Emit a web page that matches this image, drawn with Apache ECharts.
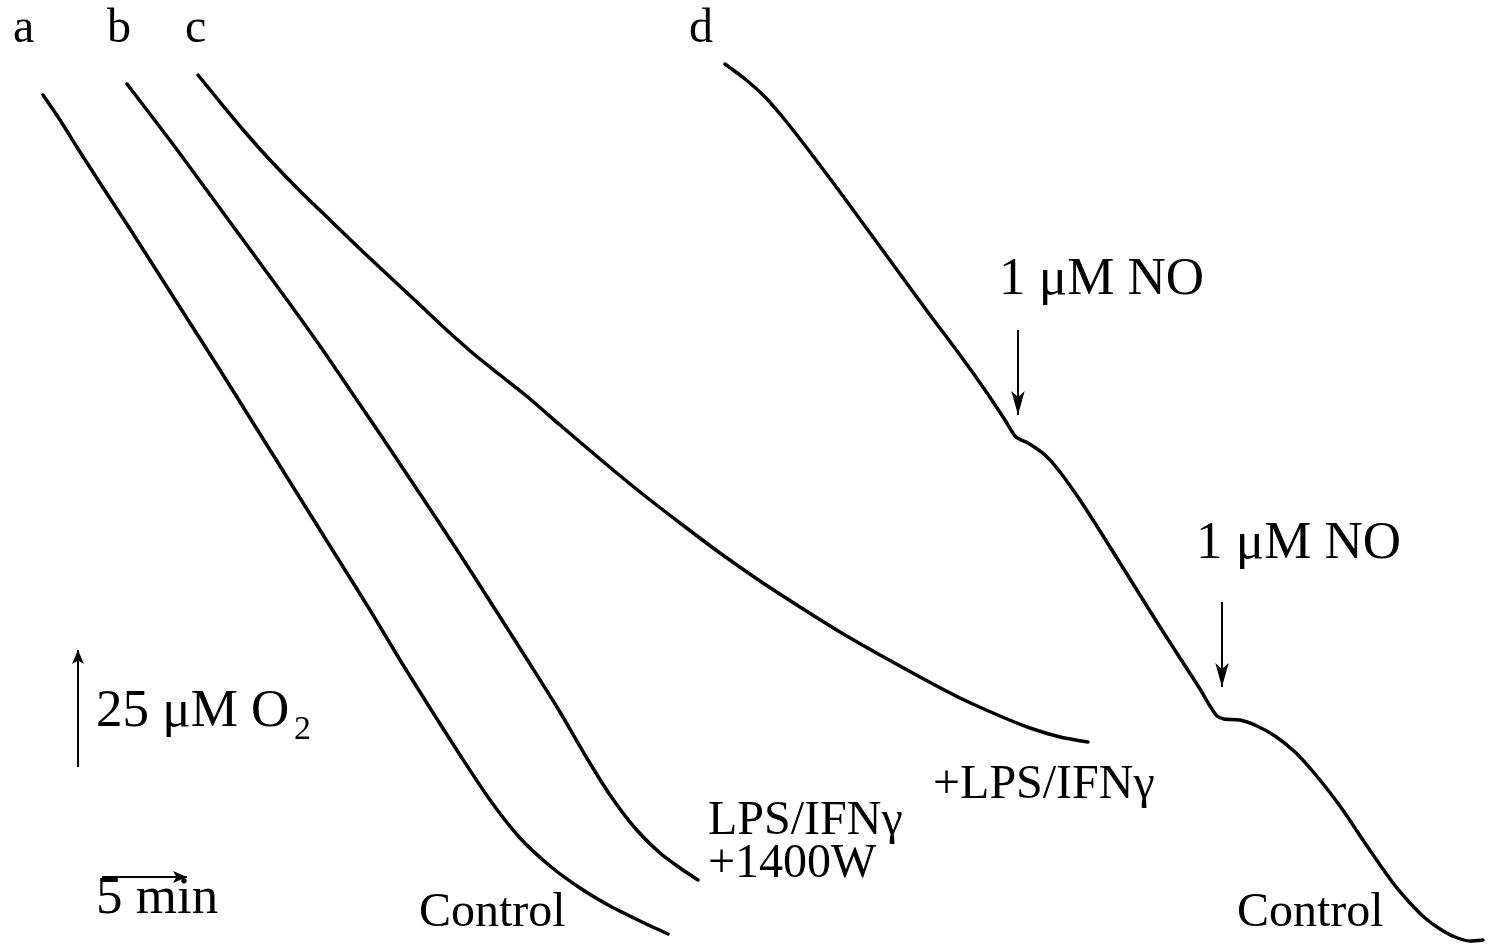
<!DOCTYPE html>
<html><head><meta charset="utf-8">
<script src="https://cdn.jsdelivr.net/npm/echarts@6/dist/echarts.min.js"></script>
<style>html,body{margin:0;padding:0;background:#fff}#chart{width:1488px;height:951px}</style>
</head><body><div id="chart"></div>
<script>
// Oxygen electrode traces, in recording-chart units (x: time, y: pen deflection, downward = O2 consumed)
const traceA = [[43,95],[60,120],[80,152],[100,183],[130,229],[160,276],[190,323],[220,370],[250,418],[280,466],[310,514],[340,562],[370,610],[400,660],[430,708],[460,755],[490,800],[520,838],[550,866],[580,888],[610,906],[640,921],[668,934]];
const traceB = [[127,84],[150,114],[175,147],[200,181],[230,222],[260,263],[290,304],[320,346],[350,390],[380,434],[410,479],[440,524],[470,570],[500,617],[530,664],[560,712],[585,755],[610,795],[635,828],[660,853],[680,868],[698,880]];
const traceC = [[198,75],[220,102],[245,132],[270,160],[300,191],[330,220],[360,249],[390,277],[420,305],[450,333],[475,355],[500,375],[530,399],[560,425],[600,459],[640,492],[680,523],[720,553],[760,581],[800,607],[840,632],[880,655],[920,677],[960,698],[1000,716],[1030,728],[1060,737],[1088,742]];
const traceD = [[725,64],[745,79],[765,97],[785,120],[810,152],[840,192],[870,233],[900,274],[930,315],[960,355],[985,390],[1005,420],[1016,437],[1028,443],[1045,455],[1060,472],[1080,500],[1100,531],[1120,563],[1140,595],[1160,627],[1180,658],[1200,689],[1210,706],[1217,716],[1224,719],[1240,720],[1257,726],[1275,736],[1295,752],[1315,774],[1340,806],[1367,846],[1393,883],[1410,903],[1425,918],[1440,929],[1455,937],[1470,941],[1483,940]];
// NO additions on trace d: [time, arrow start, arrow end]
const noAdditions = [[1018,330,415],[1222,602,687]];
// Scale bars: 25 µM O2 (vertical), 5 min (horizontal)
const o2Bar = [[78,767],[78,650]];
const timeBar = [[102,877],[187,877]];
const traceNames = ['a','b','c','d'];
const conditionLabels = ['Control','LPS/IFNγ','+1400W','+LPS/IFNγ','Control'];
const noLabel = '1 μM NO';
const o2Label = ['25 μM O','2'];
const timeLabel = '5 min';

const chart = echarts.init(document.getElementById('chart'), null, {renderer:'canvas'});
function txt(text, x, baseline, size){
  const s = size || 48;
  return {type:'text', silent:true, style:{text:text, x:x, y:baseline - Math.round(s*0.3), fill:'#000',
    font: s+'px "Liberation Serif", "DejaVu Serif", serif', align:'left', verticalAlign:'middle'}};
}
const lineStyle = {color:'#000', width:3.5, cap:'round', join:'round'};
function traceSeries(name, data){
  return {name:name, type:'line', data:data, smooth:0.25, showSymbol:false, symbol:'none',
    lineStyle:lineStyle, animation:false, silent:true};
}
const arrowML = function(pairs, size){
  return {silent:true, animation:false, symbol:['none','arrow'], symbolSize:size,
    lineStyle:{color:'#000', width:2, type:'solid'}, label:{show:false}, emphasis:{disabled:true},
    data: pairs.map(p => [{coord:p[0]},{coord:p[1]}])};
};
const sD = traceSeries('d', traceD);
sD.markLine = arrowML(noAdditions.map(n => [[n[0],n[1]],[n[0],n[2]]]), [10,24]);
const sBars = {name:'scale', type:'line', data:[], animation:false, silent:true,
  markLine: arrowML([o2Bar, timeBar], [9,14])};

chart.setOption({
  backgroundColor:'#fff',
  animation:false,
  grid:{left:0,right:0,top:0,bottom:0},
  xAxis:{type:'value', min:0, max:1488, show:false},
  yAxis:{type:'value', min:0, max:951, inverse:true, show:false},
  series:[traceSeries('a',traceA), traceSeries('b',traceB), traceSeries('c',traceC), sD, sBars],
  graphic:[
    txt(traceNames[0], 13, 43), txt(traceNames[1], 107, 43), txt(traceNames[2], 185, 43), txt(traceNames[3], 689, 43),
    txt(noLabel, 999, 296, 53), txt(noLabel, 1196, 560, 53),
    txt(o2Label[0], 96, 728, 53), txt(o2Label[1], 294, 740, 34),
    txt(timeLabel, 96, 915, 53),
    txt(conditionLabels[0], 419, 927),
    txt(conditionLabels[1], 708, 835), txt(conditionLabels[2], 708, 878),
    txt(conditionLabels[3], 933, 799),
    txt(conditionLabels[4], 1237, 927)
  ]
});
</script></body></html>
